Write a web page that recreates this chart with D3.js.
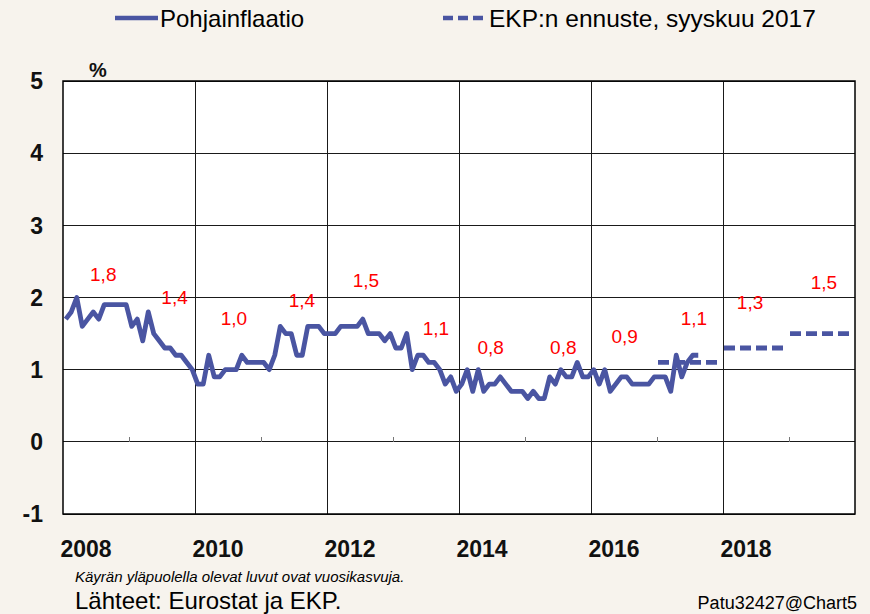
<!DOCTYPE html>
<html><head><meta charset="utf-8">
<script src="https://cdn.jsdelivr.net/npm/d3@7"></script>
<style>
html,body{margin:0;padding:0;background:#F7F3ED;}
svg{display:block;font-family:"Liberation Sans",Arial,sans-serif;}
</style></head>
<body>
<svg id="chart" width="870" height="614"></svg>
<script>
// Core inflation (euro area, y/y %), monthly Jan 2008 – Aug 2017
const startYear = 2008;
const coreInflation = [
  1.7,1.8,2.0,1.6,1.7,1.8,1.7,1.9,1.9,1.9,1.9,1.9,
  1.6,1.7,1.4,1.8,1.5,1.4,1.3,1.3,1.2,1.2,1.1,1.0,
  0.8,0.8,1.2,0.9,0.9,1.0,1.0,1.0,1.2,1.1,1.1,1.1,
  1.1,1.0,1.2,1.6,1.5,1.5,1.2,1.2,1.6,1.6,1.6,1.5,
  1.5,1.5,1.6,1.6,1.6,1.6,1.7,1.5,1.5,1.5,1.4,1.5,
  1.3,1.3,1.5,1.0,1.2,1.2,1.1,1.1,1.0,0.8,0.9,0.7,
  0.8,1.0,0.7,1.0,0.7,0.8,0.8,0.9,0.8,0.7,0.7,0.7,
  0.6,0.7,0.6,0.6,0.9,0.8,1.0,0.9,0.9,1.1,0.9,0.9,
  1.0,0.8,1.0,0.7,0.8,0.9,0.9,0.8,0.8,0.8,0.8,0.9,
  0.9,0.9,0.7,1.2,0.9,1.1,1.2,1.2
];
// ECB forecast, September 2017
const forecastYears = [2017, 2018, 2019];
const forecastValues = [1.1, 1.3, 1.5];
// Annual growth labels
const annualYears  = [2008,2009,2010,2011,2012,2013,2014,2015,2016,2017,2018,2019];
const annualLabels = ["1,8","1,4","1,0","1,4","1,5","1,1","0,8","0,8","0,9","1,1","1,3","1,5"];
const labelYear  = [2008.61,2009.69,2010.59,2011.62,2012.59,2013.65,2014.48,2015.58,2016.51,2017.56,2018.41,2019.53];
const labelLevel = [2.33,2.0,1.72,1.97,2.24,1.58,1.31,1.31,1.46,1.71,1.93,2.21];
const yTicks = [-1,0,1,2,3,4,5];
const xMajor = [2008,2010,2012,2014,2016,2018];
const xMinor = [2009,2011,2013,2015,2017,2019];
const legendItems = ["Pohjainflaatio","EKP:n ennuste, syyskuu 2017"];

const LINE = "#4A55A2";
const svg = d3.select("#chart");
const x = d3.scaleLinear().domain([2008, 2020]).range([63, 855]);
const y = d3.scaleLinear().domain([-1, 5]).range([514, 81]);

// plot background
svg.append("rect").attr("x", x(2008)).attr("y", y(5))
  .attr("width", x(2020) - x(2008)).attr("height", y(-1) - y(5)).attr("fill", "#fff");

// horizontal gridlines
svg.append("g").selectAll("line").data(yTicks).join("line")
  .attr("x1", x(2008)).attr("x2", x(2020))
  .attr("y1", d => y(d)).attr("y2", d => y(d))
  .attr("stroke", "#1a1a1a").attr("stroke-width", 1).attr("shape-rendering","crispEdges");
// vertical gridlines
svg.append("g").selectAll("line").data(xMajor.slice(1)).join("line")
  .attr("x1", d => x(d)).attr("x2", d => x(d))
  .attr("y1", y(5)).attr("y2", y(-1))
  .attr("stroke", "#1a1a1a").attr("stroke-width", 1).attr("shape-rendering","crispEdges");
// minor ticks on zero line
svg.append("g").selectAll("line").data(xMinor).join("line")
  .attr("x1", d => x(d)).attr("x2", d => x(d))
  .attr("y1", y(0)).attr("y2", y(0) - 5)
  .attr("stroke", "#777").attr("stroke-width", 1).attr("shape-rendering","crispEdges");
// frame
svg.append("rect").attr("x", x(2008)).attr("y", y(5))
  .attr("width", x(2020) - x(2008)).attr("height", y(-1) - y(5))
  .attr("fill", "none").attr("stroke", "#000").attr("stroke-width", 1.5);

// y tick labels
svg.append("g").selectAll("text").data(yTicks).join("text")
  .attr("x", 43).attr("y", d => y(d)).attr("dy", "0.36em")
  .attr("text-anchor", "end").attr("font-size", 23).attr("font-weight", "bold")
  .attr("fill", "#111").text(d => d);
svg.append("text").attr("x", 98).attr("y", 77).attr("text-anchor", "middle")
  .attr("font-size", 20).attr("font-weight", "bold").attr("fill", "#111").text("%");

// x labels
svg.append("g").selectAll("text").data(xMajor).join("text")
  .attr("x", d => x(d + 0.35)).attr("y", 557)
  .attr("text-anchor", "middle").attr("font-size", 23).attr("font-weight", "bold")
  .attr("fill", "#111").text(d => d);

// core inflation line
const monthly = coreInflation.map((v, i) => ({t: startYear + (i + 0.5) / 12, v}));
svg.append("path").datum(monthly)
  .attr("fill", "none").attr("stroke", LINE).attr("stroke-width", 4.8)
  .attr("stroke-linejoin", "round")
  .attr("d", d3.line().x(d => x(d.t)).y(d => y(d.v)));

// forecast dashed lines
svg.append("g").selectAll("line").data(forecastYears).join("line")
  .attr("x1", (d) => x(d) + 1).attr("x2", d => x(d + 1) - 1)
  .attr("y1", (d, i) => y(forecastValues[i])).attr("y2", (d, i) => y(forecastValues[i]))
  .attr("stroke", LINE).attr("stroke-width", 4.8).attr("stroke-dasharray", "11,5");

// annual labels
svg.append("g").selectAll("text").data(annualLabels).join("text")
  .attr("x", (d, i) => x(labelYear[i])).attr("y", (d, i) => y(labelLevel[i])).attr("dy", "0.36em")
  .attr("text-anchor", "middle").attr("font-size", 19).attr("fill", "#FF0000").text(d => d);

// legend
const lg = svg.append("g");
lg.append("line").attr("x1", 115).attr("x2", 158).attr("y1", 18).attr("y2", 18)
  .attr("stroke", LINE).attr("stroke-width", 4.5);
lg.append("text").attr("x", 160).attr("y", 27).attr("font-size", 24).attr("fill", "#000").text(legendItems[0]);
lg.append("line").attr("x1", 443).attr("x2", 488).attr("y1", 18).attr("y2", 18)
  .attr("stroke", LINE).attr("stroke-width", 4.5).attr("stroke-dasharray", "10,5");
lg.append("text").attr("x", 489).attr("y", 27).attr("font-size", 24.5).attr("fill", "#000").text(legendItems[1]);

// footnotes
svg.append("text").attr("x", 75).attr("y", 582).attr("font-size", 15).attr("font-style", "italic")
  .attr("fill", "#000").text("Käyrän yläpuolella olevat luvut ovat vuosikasvuja.");
svg.append("text").attr("x", 75).attr("y", 609).attr("font-size", 24)
  .attr("fill", "#000").text("Lähteet: Eurostat ja EKP.");
svg.append("text").attr("x", 857).attr("y", 609).attr("text-anchor", "end").attr("font-size", 18)
  .attr("fill", "#000").text("Patu32427@Chart5");
</script>
</body></html>
